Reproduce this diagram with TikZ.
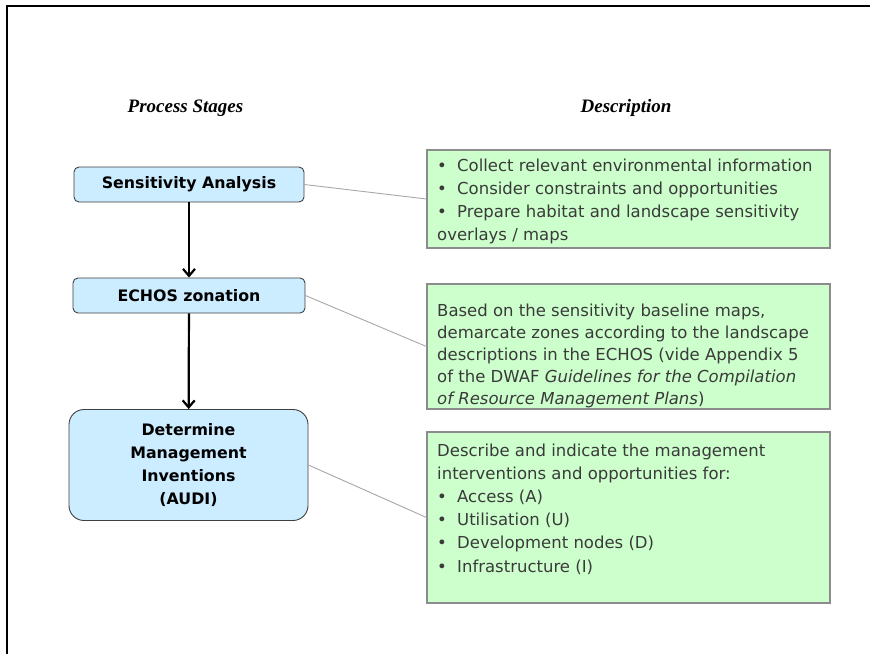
\documentclass[tikz,border=0pt]{standalone}
\usepackage{fontspec}
\setmainfont{DejaVu Sans}
\newfontfamily\titlefont{Liberation Serif}
\usetikzlibrary{arrows.meta}
\definecolor{bluefill}{HTML}{CCECFF}
\definecolor{greenfill}{HTML}{CCFFCC}
\definecolor{greenedge}{HTML}{8C8C8C}
\definecolor{descgrey}{HTML}{3A3A3A}
\definecolor{linkgrey}{HTML}{A8A8A8}
\tikzset{
  stagebox/.style={draw=black!75, line width=0.9pt, fill=bluefill, rounded corners=5pt,
    font=\fontsize{15.8}{23.3}\selectfont\bfseries, align=center, inner sep=0pt},
  descbox/.style={draw=greenedge, line width=1.1pt, fill=greenfill, inner sep=0pt,
    minimum width=403pt},
  desctext/.style={anchor=base west, inner sep=0pt, align=left, text=descgrey},
  heading/.style={anchor=base, inner sep=0pt, font=\titlefont\fontsize{19}{21}\selectfont\bfseries\itshape},
  flow/.style={line width=2.2pt, -{Straight Barb[length=7pt,width=12pt,line width=2.2pt]}},
  link/.style={draw=linkgrey, line width=0.9pt}
}
\newcommand{\bul}{\makebox[20pt][l]{\textbullet}}
\begin{document}
\begin{tikzpicture}[x=1pt,y=-1pt]
\useasboundingbox (0,0) rectangle (870,654);
\fill[white] (0,0) rectangle (870,654);
\draw[line width=2pt] (6.5,654) -- (6.5,5.5) -- (870,5.5);

\node[heading] (h1) at (185.5,112) {Process Stages};
\node[heading] (h2) at (626,112) {Description};

\node[stagebox, minimum width=230pt, minimum height=35pt] (s1) at (189,184.5) {Sensitivity Analysis};
\node[stagebox, minimum width=232pt, minimum height=35pt] (s2) at (189,295.5) {ECHOS zonation};
\node[stagebox, rounded corners=15pt, minimum width=239pt, minimum height=111pt] (s3) at (188.5,465)
  {Determine\\Management\\Inventions\\(AUDI)};

\node[descbox, minimum height=98pt] (d1) at (628.5,199) {};
\node[descbox, minimum height=125pt] (d2) at (628.5,346.5) {};
\node[descbox, minimum height=171pt] (d3) at (628.5,517.5) {};

% base anchor of a multi-line node is the baseline of its last line
\node[desctext, font=\fontsize{16.5}{22.7}\selectfont] (t1) at (437,240) {\bul Collect relevant environmental information\\
\bul Consider constraints and opportunities\\
\bul Prepare habitat and landscape sensitivity\\
overlays / maps};
\node[desctext, font=\fontsize{16.5}{22}\selectfont] (t2) at (437,404.5) {Based on the sensitivity baseline maps,\\
demarcate zones according to the landscape\\
descriptions in the ECHOS (vide Appendix 5\\
of the DWAF \textit{Guidelines for the Compilation}\\
\textit{of Resource Management Plans})};
\node[desctext, font=\fontsize{16.5}{23.2}\selectfont] (t3) at (437,572) {Describe and indicate the management\\
interventions and opportunities for:\\
\bul Access (A)\\
\bul Utilisation (U)\\
\bul Development nodes (D)\\
\bul Infrastructure (I)};

\draw[flow] (s1) -- (s2);
\draw[flow] (s2) -- (s3);

\draw[link] (s1.east) -- (d1.west);
\draw[link] (s2.east) -- (d2.west);
\draw[link] (s3.east) -- (d3.west);
\end{tikzpicture}
\end{document}
